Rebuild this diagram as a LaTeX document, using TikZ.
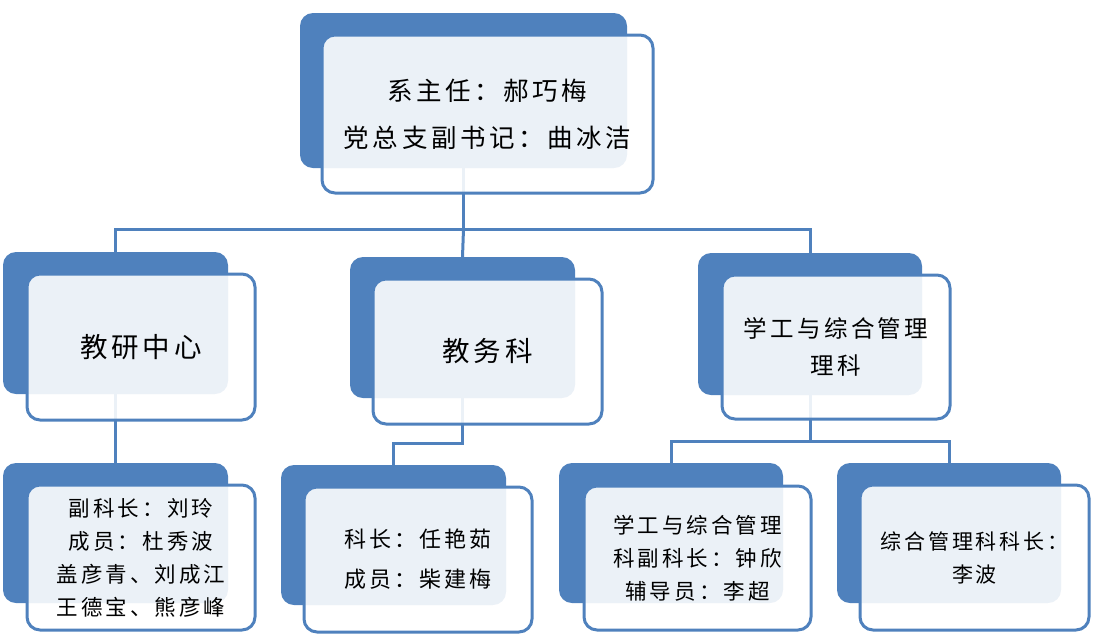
\documentclass[tikz,border=0pt]{standalone}
\usepackage{fontspec}
\setmainfont{Noto Sans CJK SC}
\newfontfamily\cjkwide[LetterSpace=14]{Noto Sans CJK SC}
\usepackage{xcolor}
\definecolor{myblue}{HTML}{4F81BD}
\usetikzlibrary{positioning}
\tikzset{
  back/.style={fill=myblue, rounded corners=13pt, inner sep=0pt},
  card/.style={draw=myblue, line width=3pt, fill=white, fill opacity=0.89,
    text opacity=1, rounded corners=13pt, inner sep=0pt, align=center},
  link/.style={draw=myblue, line width=3pt},
  topfont/.style={font=\cjkwide\fontsize{25.5pt}{47pt}\selectfont},
  midfont/.style={font=\cjkwide\fontsize{27.5pt}{37pt}\selectfont},
  lowfont/.style={font=\cjkwide\fontsize{21.5pt}{33pt}\selectfont},
}

\begin{document}
\begin{tikzpicture}[x=1pt,y=-1pt]
  \useasboundingbox (0,0) rectangle (1094,641);

  % back plates
  \node[back, minimum width=327pt, minimum height=155pt] (topbg) at (463.5,90.5) {};
  \node[back, minimum width=225pt, minimum height=142pt] (jybg) at (115.5,323) {};
  \node[back, minimum width=225pt, minimum height=141pt] (jwbg) at (462.5,327.5) {};
  \node[back, minimum width=224pt, minimum height=142pt] (xgbg) at (810,324) {};
  \node[back, minimum width=225pt, minimum height=140pt] (c1bg) at (115.5,533) {};
  \node[back, minimum width=225pt, minimum height=140pt] (c2bg) at (393.5,535) {};
  \node[back, minimum width=224pt, minimum height=140pt] (c3bg) at (671,533) {};
  \node[back, minimum width=224pt, minimum height=140pt] (c4bg) at (949,533) {};

  % connectors
  \coordinate (tophub) at (463.5,229);
  \coordinate (jwhub) at (462.5,443);
  \coordinate (xghub) at (810,441);
  \draw[link] (topbg.south) -- (tophub) -| (jybg.north);
  \draw[link] (tophub) -- (jwbg.north);
  \draw[link] (tophub) -| (xgbg.north);
  \draw[link] (jybg.south) -- (c1bg.north);
  \draw[link] (jwbg.south) -- (jwhub) -| (c2bg.north);
  \draw[link] (xgbg.south) -- (xghub) -| (c3bg.north);
  \draw[link] (xghub) -| (c4bg.north);

  % cards
  \node[card, topfont, minimum width=331pt, minimum height=158pt] (top) at (487.5,114)
    {系主任：郝巧梅\\党总支副书记：曲冰洁};
  \node[card, midfont, minimum width=228pt, minimum height=146pt] (jy) at (141,347) {教研中心};
  \node[card, midfont, minimum width=229pt, minimum height=145pt] (jw) at (487.5,351.5) {教务科};
  \node[card, midfont, font=\cjkwide\fontsize{23.5pt}{37pt}\selectfont,
    minimum width=228pt, minimum height=144pt] (xg) at (836,347) {学工与综合管理\\理科};
  \node[card, lowfont, minimum width=228pt, minimum height=145pt] (c1) at (141,557.5)
    {副科长：刘玲\\成员：杜秀波\\盖彦青、刘成江\\王德宝、熊彦峰};
  \node[card, lowfont, font=\cjkwide\fontsize{22pt}{40pt}\selectfont,
    minimum width=228pt, minimum height=145pt] (c2) at (418,559.5)
    {科长：任艳茹\\成员：柴建梅};
  \node[card, lowfont, minimum width=227pt, minimum height=144pt] (c3) at (697.5,558)
    {学工与综合管理\\科副科长：钟欣\\辅导员：李超};
  \node[card, lowfont, font=\cjkwide\fontsize{21pt}{33pt}\selectfont,
    minimum width=229pt, minimum height=145pt] (c4) at (974.5,557.5)
    {综合管理科科长：\\李波};
\end{tikzpicture}
\end{document}
